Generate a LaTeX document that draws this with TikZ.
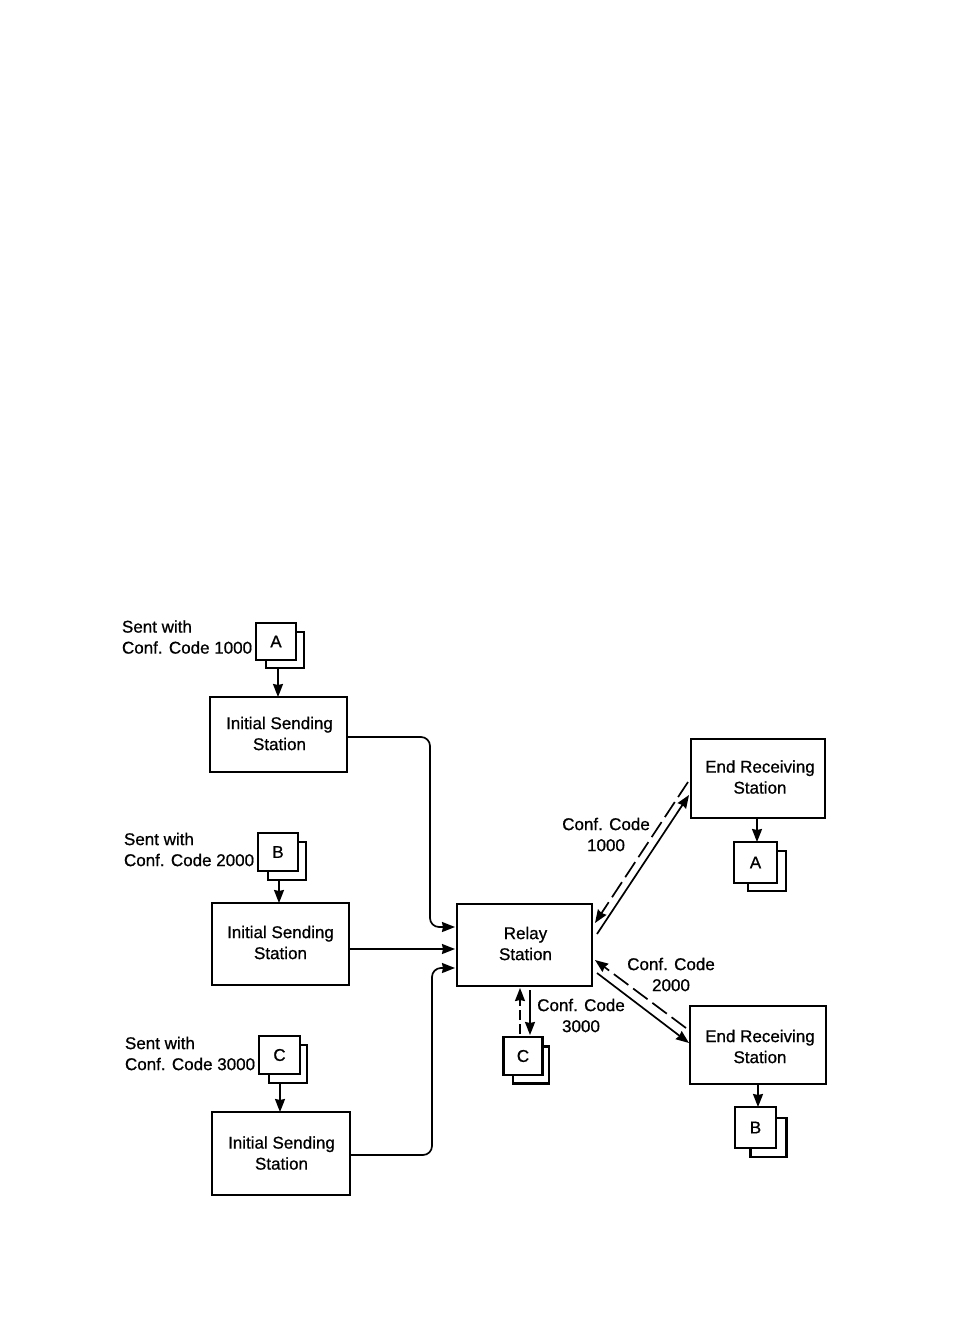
\documentclass[tikz,border=0pt]{standalone}
\usepackage{fontspec}
\setmainfont{Liberation Sans}[FakeBold=0.8]
\usetikzlibrary{arrows.meta}
\tikzset{
  txt/.style={font=\fontsize{17pt}{21pt}\selectfont},
  station/.style={draw=black,line width=2.8pt,fill=white,inner sep=0pt,outer sep=0pt},
  sheet/.style={draw=black,line width=2.8pt,fill=white,inner sep=0pt,outer sep=0pt,txt},
  caption/.style={inner sep=0pt,outer sep=0pt,align=center,txt},
  sidenote/.style={caption,align=left,anchor=west},
  link/.style={line width=1.7pt,-{Stealth[length=13pt,width=10pt,inset=1pt]}},
  dashlink/.style={link,dash pattern=on 18pt off 6pt},
  shortdash/.style={link,dash pattern=on 10pt off 4pt},
}
% Two overlapping sheets: name, letter, front centre, front size, back centre, back size
\newcommand{\sheetstack}[8]{%
  \node[sheet,minimum width=#7pt,minimum height=#8pt] (#1back) at #6 {};
  \node[sheet,minimum width=#4pt,minimum height=#5pt] (#1) at #3 {#2};
}
\begin{document}
\begin{tikzpicture}[x=1pt,y=-1pt]
\useasboundingbox[fill=white] (0,0) rectangle (954,1333);

% Sending stations
\node[station,minimum width=137pt,minimum height=75pt] (isa) at (278.5,734.5) {};
\node[caption] (isat) at (279.5,733.5) {Initial Sending\\Station};
\node[station,minimum width=137pt,minimum height=82pt] (isb) at (280.5,944) {};
\node[caption] (isbt) at (280.5,942.5) {Initial Sending\\Station};
\node[station,minimum width=138pt,minimum height=83pt] (isc) at (281,1153.5) {};
\node[caption] (isct) at (281.5,1153) {Initial Sending\\Station};

% Relay and receiving stations
\node[station,minimum width=135pt,minimum height=82pt] (relay) at (524.5,945) {};
\node[caption] (relayt) at (525.5,943.5) {Relay\\Station};
\node[station,minimum width=134pt,minimum height=79pt] (era) at (758,778.5) {};
\node[caption] (erat) at (760,777) {End Receiving\\Station};
\node[station,minimum width=136pt,minimum height=78pt] (erb) at (758,1045) {};
\node[caption] (erbt) at (760,1046.5) {End Receiving\\Station};

% Document stacks
\sheetstack{da}{A}{(276,641.5)}{40}{37}{(285,650)}{38}{36}
\sheetstack{db}{B}{(278,852)}{40}{38}{(287,861)}{38}{38}
\sheetstack{dc}{C}{(279.5,1055)}{41}{38}{(288,1064)}{38}{38}
\sheetstack{dr}{C}{(523,1056)}{39}{38}{(531,1065)}{36}{37}
\sheetstack{dea}{A}{(755.5,862.5)}{43}{41}{(767,871)}{38}{40}
\sheetstack{deb}{B}{(755.5,1127.5)}{41}{41}{(768.5,1137.5)}{36}{39}

% Side notes and link labels
\node[sidenote] (na) at (122,637) {Sent with\\Conf. Code 1000};
\node[sidenote] (nb) at (124,849.5) {Sent with\\Conf. Code 2000};
\node[sidenote] (nc) at (125,1053.5) {Sent with\\Conf. Code 3000};
\node[caption] (ca) at (606,834.5) {Conf. Code\\1000};
\node[caption] (cb) at (671,974.5) {Conf. Code\\2000};
\node[caption] (cc) at (581,1015.5) {Conf. Code\\3000};

% Attachment points just off the station edges
\coordinate (reA)  at ([shift={(5,-11)}]relay.east);
\coordinate (reAd) at ([shift={(3,-22)}]relay.east);
\coordinate (reB)  at ([shift={(5,28)}]relay.east);
\coordinate (reBd) at ([shift={(3,15)}]relay.east);
\coordinate (erA)  at ([shift={(-2,16.5)}]era.west);
\coordinate (erAd) at ([shift={(-3,3.5)}]era.west);
\coordinate (erB)  at ([shift={(-1,-2)}]erb.west);
\coordinate (erBd) at ([shift={(-4,-17)}]erb.west);
\coordinate (inA)  at ([shift={(-2,-18)}]relay.west);
\coordinate (inB)  at ([shift={(-2,4)}]relay.west);
\coordinate (inC)  at ([shift={(-2,23)}]relay.west);
\coordinate (busA) at (430,737);
\coordinate (busC) at (432,1155);
\coordinate (outC) at ([shift={(5.5,4)}]relay.south);
\coordinate (backC) at ([shift={(-3,2)}]relay.south -| dr.north);

% Sheets into the sending stations
\draw[link] ([xshift=-0.5pt]isa.north |- daback.south) -- ([xshift=-0.5pt]isa.north);
\draw[link] ([xshift=-1.5pt]isb.north |- dbback.south) -- ([xshift=-1.5pt]isb.north);
\draw[link] ([xshift=-1pt]isc.north |- dcback.south) -- ([xshift=-1pt]isc.north);

% Sending stations into the relay
\draw[link,rounded corners=9pt] (isa.east |- busA) -- (busA) -- (busA |- inA) -- (inA);
\draw[link] (isb.east |- inB) -- (inB);
\draw[link,rounded corners=9pt] (isc.east |- busC) -- (busC) -- (busC |- inC) -- (inC);

% Relay to and from the receiving stations
\draw[link] (reA) -- (erA);
\draw[dashlink] (erAd) -- (reAd);
\draw[link] (reB) -- (erB);
\draw[dashlink] (erBd) -- (reBd);

% Relay and its local copy
\draw[link] (outC) -- ([yshift=2pt]outC |- dr.north);
\draw[shortdash] ([shift={(-3,-3)}]dr.north) -- (backC);

% Receiving stations to their copies
\draw[link] ([xshift=-1pt]era.south) -- ([xshift=-1pt]era.south |- dea.north);
\draw[link] (erb.south) -- (erb.south |- deb.north);
\end{tikzpicture}
\end{document}
